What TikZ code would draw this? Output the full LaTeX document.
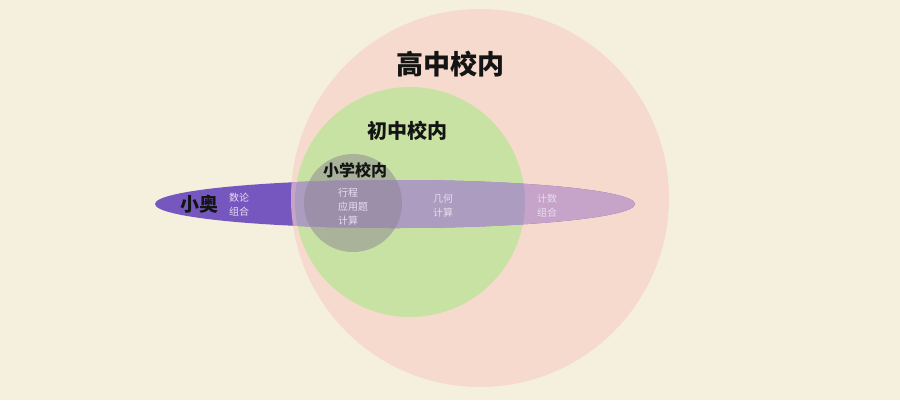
\documentclass[tikz,border=0pt]{standalone}
\usepackage{fontspec}
\newfontfamily\cjk{Noto Sans CJK SC}
\definecolor{bgc}{HTML}{F5F0DE}
\definecolor{pinkc}{HTML}{F6DACD}
\definecolor{greenc}{HTML}{C8E2A4}
\definecolor{grayc}{HTML}{A9B39A}
\definecolor{purpdark}{HTML}{7657BF}
\definecolor{purppink}{HTML}{C6A3C9}
\definecolor{purpgreen}{HTML}{AC9CBF}
\definecolor{purpgray}{HTML}{9C8FAA}
\definecolor{labc}{HTML}{EADCF0}
\definecolor{titc}{HTML}{141414}
\tikzset{
  title/.style={font=\cjk\bfseries\fontsize{#1}{#1}\selectfont, text=titc, inner sep=0pt},
  lab/.style={font=\cjk\fontsize{10}{14}\selectfont, text=labc, align=left, inner sep=0pt}
}
\begin{document}
\begin{tikzpicture}[x=1pt,y=-1pt]
\useasboundingbox (0,0) rectangle (900,400);
\fill[bgc] (0,0) rectangle (900,400);
% circles
\fill[pinkc] (480,198) circle[radius=189pt];
\fill[greenc] (410,202) circle[radius=115pt];
\fill[grayc] (353,203) circle[radius=49pt];
% ellipse
\fill[purpdark] (395,204) ellipse[x radius=240pt, y radius=24pt];
\begin{scope}
  \clip (480,198) circle[radius=189pt];
  \fill[purppink] (395,204) ellipse[x radius=240pt, y radius=24pt];
\end{scope}
\begin{scope}
  \clip (410,202) circle[radius=115pt];
  \fill[purpgreen] (395,204) ellipse[x radius=240pt, y radius=24pt];
\end{scope}
\begin{scope}
  \clip (353,203) circle[radius=49pt];
  \fill[purpgray] (395,204) ellipse[x radius=240pt, y radius=24pt];
\end{scope}
% titles
\node[title=27] (high) at (450,64) {高中校内};
\node[title=20] (mid) at (407,131) {初中校内};
\node[title=16] (pri) at (355,170) {小学校内};
\node[title=19] (ao) at (199,204) {小奥};
% labels
\node[lab, anchor=west] (l1) at (229,205) {数论\\组合};
\node[lab, anchor=west] (l2) at (338,207) {行程\\应用题\\计算};
\node[lab, anchor=west] (l3) at (433,206) {几何\\计算};
\node[lab, anchor=west] (l4) at (537,206) {计数\\组合};
\end{tikzpicture}
\end{document}
